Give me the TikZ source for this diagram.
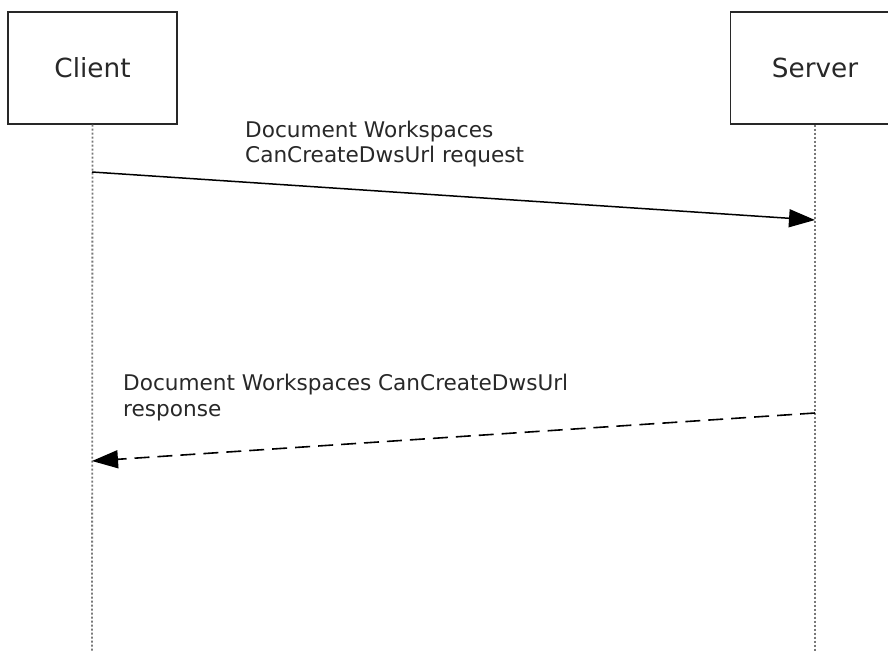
\documentclass[tikz,border=0pt]{standalone}
\usepackage{fontspec}
\setmainfont{DejaVu Sans}
\usetikzlibrary{arrows.meta}
\definecolor{lifegray}{RGB}{120,120,120}
\definecolor{inkgray}{RGB}{40,40,40}
\tikzset{
  actorbox/.style={draw=inkgray, line width=1.4pt, fill=white, minimum width=169pt, minimum height=112pt, inner sep=0pt, font=\fontsize{26.3pt}{30pt}\selectfont, text=inkgray},
  lifeline/.style={draw=lifegray, line width=1.8pt, dash pattern=on 2pt off 2pt},
  msglabel/.style={anchor=north west, inner sep=0pt, align=left, font=\fontsize{21.6pt}{25.5pt}\selectfont, text=inkgray},
  reqarrow/.style={draw=black, line width=1.5pt, -{Triangle[length=26pt,width=18pt]}},
  resparrow/.style={draw=black, line width=1.6pt, dash pattern=on 15pt off 8pt, -{Triangle[length=26pt,width=18pt]}}
}
\begin{document}
\begin{tikzpicture}[x=1pt,y=-1pt]
\useasboundingbox[fill=white] (0,0) rectangle (888,651);
\node[actorbox] (client) at (92.5,68) {Client};
\node[actorbox] (server) at (815,68) {Server};
\coordinate (clientend) at (92,651);
\coordinate (serverend) at (815,651);
\draw[lifeline] (client.south) -- (clientend);
\draw[lifeline] (server.south) -- (serverend);
\coordinate (reqstart) at (92,172);
\coordinate (reqend) at (815,220);
\coordinate (resstart) at (815,413);
\coordinate (resend) at (92,461);
\draw[reqarrow] (reqstart) -- (reqend);
\draw[resparrow] (resstart) -- (resend);
\node[msglabel] (reqlabel) at (245,120.5) {Document Workspaces\\CanCreateDwsUrl request};
\node[msglabel] (reslabel) at (123,374) {Document Workspaces CanCreateDwsUrl\\response};
\end{tikzpicture}
\end{document}
